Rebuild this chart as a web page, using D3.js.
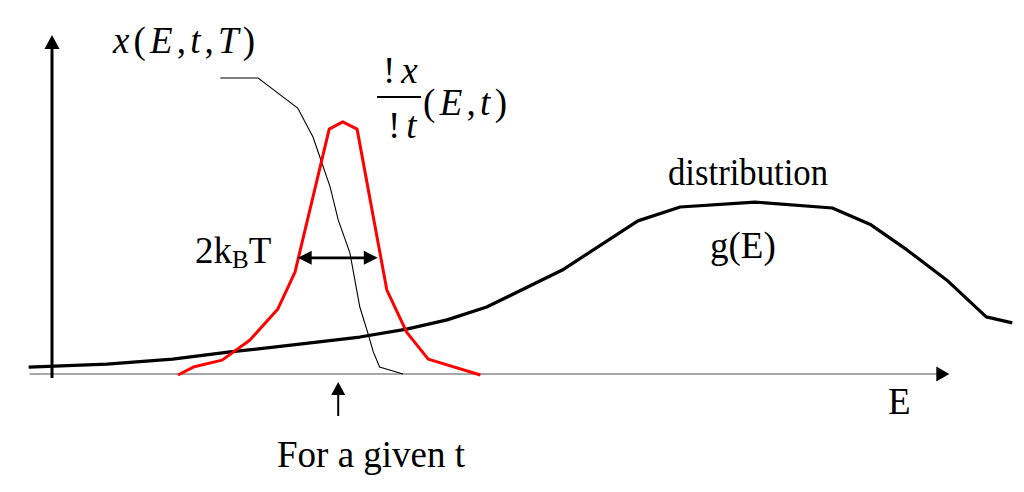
<!DOCTYPE html>
<html>
<head>
<meta charset="utf-8">
<script src="https://cdn.jsdelivr.net/npm/d3@7"></script>
<style>
  html, body { margin: 0; padding: 0; background: #fff; }
  svg text { font-family: "Liberation Serif", "Times New Roman", serif; fill: #000; }
</style>
</head>
<body>
<svg id="chart" width="1024" height="492"></svg>
<script>
// ---- data (E in arbitrary units, values in arbitrary units) ----
const distE = [-2.6, 6.1, 13.4, 19.8, 26.8, 34.2, 39.4, 43.9, 48.3, 56.7, 65.1, 69.8, 78.1, 86.7, 91.0, 95.0, 99.4, 103.8, 106.7];
const distG = [2.1, 3.0, 4.5, 6.7, 8.8, 11.2, 13.6, 16.4, 20.3, 31.5, 46.4, 50.6, 52.1, 50.3, 45.2, 37.6, 28.5, 17.3, 15.5];

const rateE = [14.0, 15.7, 18.9, 22.0, 25.1, 27.0, 30.8, 32.3, 33.9, 37.2, 39.4, 41.8, 47.6];
const rateV = [-0.3, 2.1, 4.2, 10.3, 19.7, 30.9, 74.2, 76.4, 74.2, 25.5, 12.7, 4.5, -0.3];

const xE = [18.7, 22.9, 23.9, 27.3, 29.0, 30.9, 31.8, 33.1, 34.2, 35.1, 35.7, 36.4, 39.0];
const xV = [89.7, 89.7, 87.6, 80.6, 71.8, 56.7, 46.7, 36.7, 20.3, 12.4, 6.7, 2.1, 0];

const xAxisExtent = [-2.5, 99.7];
const yAxisExtent = [-1.2, 102.7];
const widthSpan = [27.3, 36.2];   // 2kBT arrow ends (E)
const widthLevel = 35.2;          // height of the 2kBT arrow
const givenT = 31.8;              // "for a given t" position

// ---- scales ----
const svg = d3.select("#chart");
const x = d3.scaleLinear().domain([0, 100]).range([52, 952]);
const y = d3.scaleLinear().domain([0, 100]).range([374, 44]);

const line = d3.line().x(d => x(d[0])).y(d => y(d[1]));

// ---- x axis (gray) ----
const x0 = x(xAxisExtent[0]), x1 = x(xAxisExtent[1]), y0 = y(0);
svg.append("line").attr("x1", x0).attr("x2", x1 - 10).attr("y1", y0).attr("y2", y0)
  .attr("stroke", "#8a8a8a").attr("stroke-width", 1.6);
svg.append("path").attr("d", `M${x1},${y0} L${x1 - 13},${y0 - 7.5} L${x1 - 13},${y0 + 7.5} Z`).attr("fill", "#000");

// ---- y axis (thick black) ----
const ax = x(0), ya = y(yAxisExtent[0]), yb = y(yAxisExtent[1]);
svg.append("line").attr("x1", ax).attr("x2", ax).attr("y1", ya).attr("y2", yb + 10)
  .attr("stroke", "#000").attr("stroke-width", 3);
svg.append("path").attr("d", `M${ax},${yb} L${ax - 7.5},${yb + 14} L${ax + 7.5},${yb + 14} Z`).attr("fill", "#000");

// ---- curves ----
svg.append("path").datum(distE.map((e, i) => [e, distG[i]])).attr("d", line)
  .attr("fill", "none").attr("stroke", "#000").attr("stroke-width", 3.2).attr("stroke-linejoin", "round");
svg.append("path").datum(xE.map((e, i) => [e, xV[i]])).attr("d", line)
  .attr("fill", "none").attr("stroke", "#000").attr("stroke-width", 1.1);
svg.append("path").datum(rateE.map((e, i) => [e, rateV[i]])).attr("d", line)
  .attr("fill", "none").attr("stroke", "#ff0000").attr("stroke-width", 3).attr("stroke-linejoin", "round");

// ---- 2kBT double arrow ----
const wa = x(widthSpan[0]), wb = x(widthSpan[1]), wy = y(widthLevel);
svg.append("line").attr("x1", wa + 10).attr("x2", wb - 10).attr("y1", wy).attr("y2", wy)
  .attr("stroke", "#000").attr("stroke-width", 2.6);
svg.append("path").attr("d", `M${wa},${wy} L${wa + 14},${wy - 7} L${wa + 14},${wy + 7} Z`).attr("fill", "#000");
svg.append("path").attr("d", `M${wb},${wy} L${wb - 14},${wy - 7} L${wb - 14},${wy + 7} Z`).attr("fill", "#000");

// ---- "for a given t" arrow ----
const gx = x(givenT);
svg.append("line").attr("x1", gx).attr("x2", gx).attr("y1", 392).attr("y2", 416)
  .attr("stroke", "#000").attr("stroke-width", 2);
svg.append("path").attr("d", `M${gx},382 L${gx - 7},395 L${gx + 7},395 Z`).attr("fill", "#000");

// ---- texts ----
const fs = 37;
const t1 = svg.append("text").attr("x", 113).attr("y", 53).attr("font-size", fs)
  .attr("textLength", 142).attr("lengthAdjust", "spacing");
[["x", 1], ["(", 0], ["E", 1], [",", 0], ["t", 1], [",", 0], ["T", 1], [")", 0]].forEach(([s, it]) =>
  t1.append("tspan").attr("font-style", it ? "italic" : "normal").text(s));

// fraction
const fn = svg.append("text").attr("x", 383).attr("y", 83).attr("font-size", fs);
fn.append("tspan").text("!");
fn.append("tspan").attr("dx", 6).attr("font-style", "italic").text("x");
svg.append("line").attr("x1", 377).attr("x2", 421).attr("y1", 97).attr("y2", 97)
  .attr("stroke", "#000").attr("stroke-width", 2);
const fd = svg.append("text").attr("x", 388).attr("y", 138).attr("font-size", fs);
fd.append("tspan").text("!");
fd.append("tspan").attr("dx", 6).attr("font-style", "italic").text("t");
const fr = svg.append("text").attr("x", 423).attr("y", 115).attr("font-size", fs)
  .attr("textLength", 84).attr("lengthAdjust", "spacing");
[["(", 0], ["E", 1], [",", 0], ["t", 1], [")", 0]].forEach(([s, it]) =>
  fr.append("tspan").attr("font-style", it ? "italic" : "normal").text(s));

// 2kBT
const kb = svg.append("text").attr("x", 195).attr("y", 263).attr("font-size", fs);
kb.append("tspan").text("2k");
kb.append("tspan").attr("font-size", 25).attr("dy", 5).text("B");
kb.append("tspan").attr("dy", -5).text("T");

svg.append("text").attr("x", 668).attr("y", 185).attr("font-size", fs)
  .attr("textLength", 160).attr("lengthAdjust", "spacingAndGlyphs").text("distribution");
svg.append("text").attr("x", 710).attr("y", 258).attr("font-size", fs).text("g(E)");
svg.append("text").attr("x", 888).attr("y", 414).attr("font-size", fs).text("E");
svg.append("text").attr("x", 277).attr("y", 467).attr("font-size", fs).text("For a given t");
</script>
</body>
</html>
